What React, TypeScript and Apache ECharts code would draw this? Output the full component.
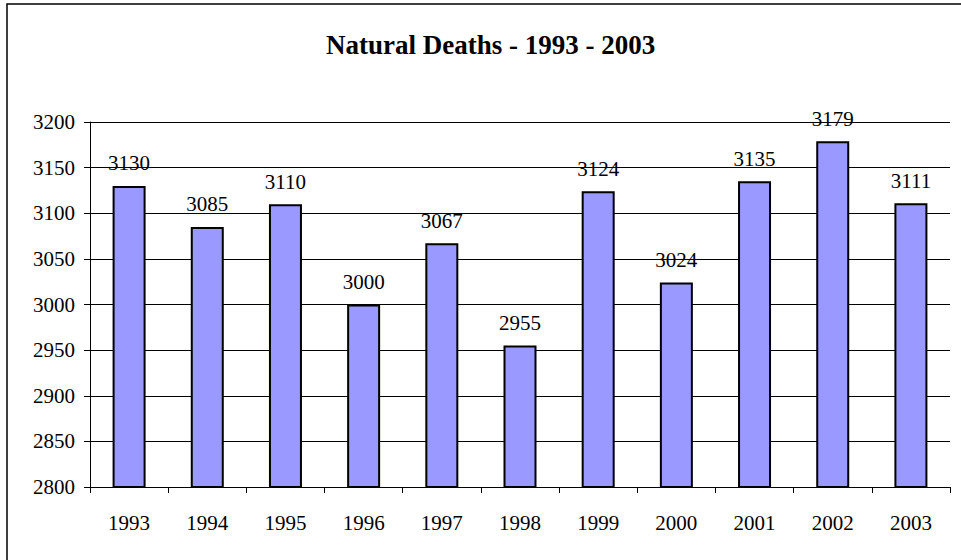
import React, { useEffect, useRef } from "react";
import * as echarts from "echarts";

const titleText = "Natural Deaths - 1993 - 2003";
const years = ["1993", "1994", "1995", "1996", "1997", "1998", "1999", "2000", "2001", "2002", "2003"];
const deaths = [3130, 3085, 3110, 3000, 3067, 2955, 3124, 3024, 3135, 3179, 3111];
const yMin = 2800;
const yMax = 3200;
const yStep = 50;

const FONT = "Liberation Serif, Times New Roman, serif";

export default function App() {
  const ref = useRef<HTMLDivElement>(null);
  useEffect(() => {
    if (!ref.current) return;
    const chart = echarts.init(ref.current, null, { renderer: "svg" });
    chart.setOption({
      animation: false,
      backgroundColor: "#ffffff",
      textStyle: { fontFamily: FONT, color: "#000" },
      title: {
        text: titleText,
        left: 321,
        top: 26,
        textStyle: { fontFamily: FONT, fontSize: 27, fontWeight: "bold", color: "#000" },
      },
      graphic: [
        {
          type: "rect",
          shape: { x: 7, y: 4, width: 2000, height: 2000 },
          style: { fill: "none", stroke: "#000", lineWidth: 1.5 },
          silent: true,
          z: 100,
        },
      ],
      grid: { left: 90, top: 122, right: 11, bottom: 73, containLabel: false },
      xAxis: {
        type: "category",
        data: years,
        boundaryGap: true,
        axisLine: { show: true, lineStyle: { color: "#000", width: 1 } },
        axisTick: { show: true, alignWithLabel: false, length: 6, lineStyle: { color: "#000" } },
        axisLabel: { fontFamily: FONT, fontSize: 21, color: "#000", margin: 25 },
        splitLine: { show: false },
      },
      yAxis: {
        type: "value",
        min: yMin,
        max: yMax,
        interval: yStep,
        axisLine: { show: true, lineStyle: { color: "#000", width: 1 } },
        axisTick: { show: true, length: 6, lineStyle: { color: "#000" } },
        axisLabel: {
          fontFamily: FONT,
          fontSize: 21,
          color: "#000",
          margin: 15,
          formatter: (v: number) => String(v),
        },
        splitLine: { show: true, lineStyle: { color: "#000", width: 1 } },
      },
      series: [
        {
          type: "bar",
          data: deaths,
          barWidth: 33,
          itemStyle: { color: "#9999ff", borderColor: "#000", borderWidth: 2 },
          label: {
            show: true,
            position: "top",
            distance: 12,
            fontFamily: FONT,
            fontSize: 21,
            color: "#000",
          },
        },
      ],
    });
    return () => chart.dispose();
  }, []);
  return (
    <div
      ref={ref}
      style={{ position: "fixed", left: 0, top: 0, width: 961, height: 560, background: "#fff" }}
    />
  );
}
